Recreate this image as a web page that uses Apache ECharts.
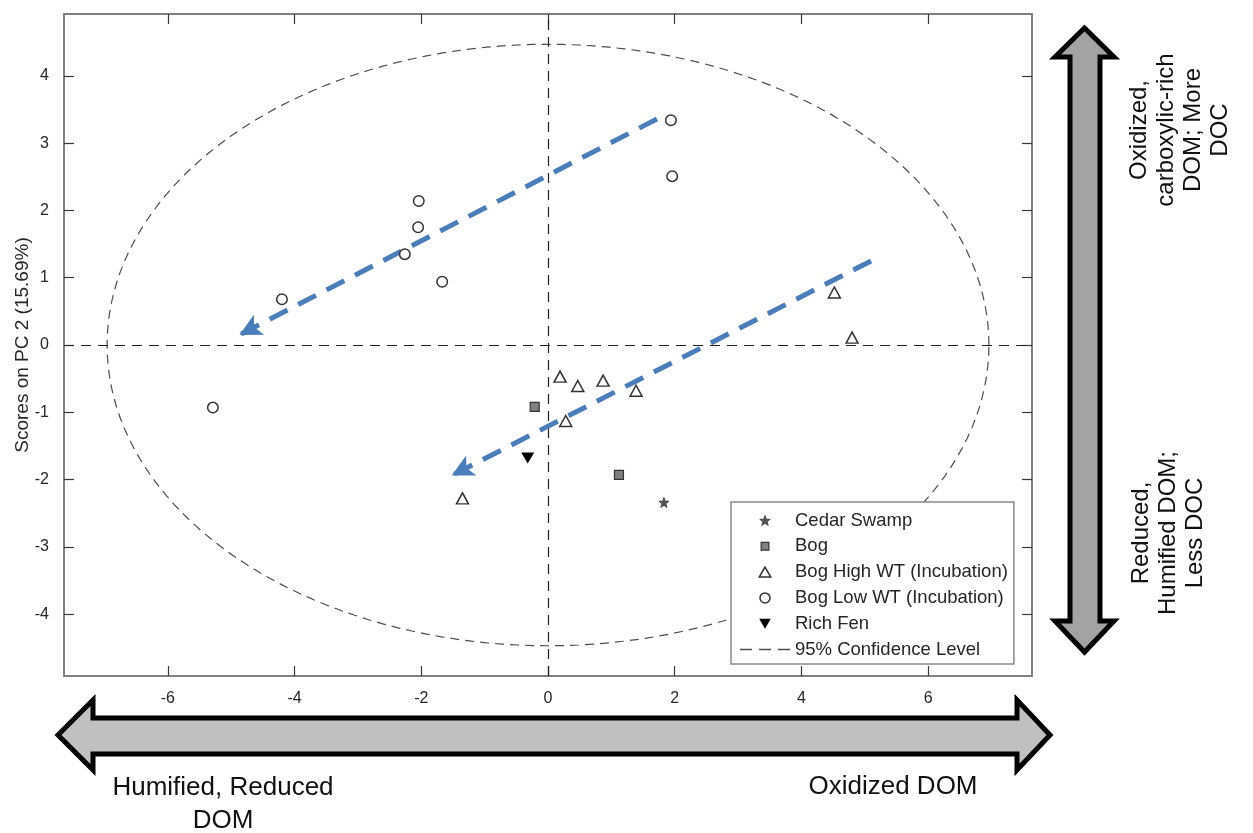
<!DOCTYPE html>
<html><head><meta charset="utf-8">
<script src="https://cdn.jsdelivr.net/npm/echarts@6/dist/echarts.min.js"></script>
<style>html,body{margin:0;padding:0;background:#fff}#c{width:1253px;height:833px}</style>
</head><body><div id="c"></div>
<script>
// ---- data ----
const xTicks = [-6, -4, -2, 0, 2, 4, 6];
const yTicks = [-4, -3, -2, -1, 0, 1, 2, 3, 4];
const cedarSwamp = [[1.83, -2.34]];
const bog = [[-0.21, -0.92], [1.12, -1.93]];
const bogHighWT = [[4.52, 0.78], [4.80, 0.11], [0.19, -0.47], [0.47, -0.61], [0.87, -0.53], [1.39, -0.68], [0.28, -1.13], [-1.35, -2.28]];
const bogLowWT = [[1.94, 3.34], [1.96, 2.51], [-2.04, 2.14], [-2.05, 1.75], [-2.26, 1.35], [-1.67, 0.94], [-4.20, 0.68], [-5.29, -0.93]];
const richFen = [[-0.32, -1.68]];
const ellipseSemiAxes = [6.96, 4.47];
const trendArrows = [[[1.72, 3.36], [-4.87, 0.15]], [[5.10, 1.25], [-1.52, -1.94]]];
const legendNames = ['Cedar Swamp', 'Bog', 'Bog High WT (Incubation)', 'Bog Low WT (Incubation)', 'Rich Fen', '95% Confidence Level'];

// ellipse outline from its semi-axes
const ellipsePts = [];
for (let i = 0; i <= 360; i += 2) {
  const t = i * Math.PI / 180;
  ellipsePts.push([ellipseSemiAxes[0] * Math.cos(t), ellipseSemiAxes[1] * Math.sin(t)]);
}

const FONT = '"Liberation Sans", Arial, Helvetica, sans-serif';
const starPath = 'path://M0,-10L2.35,-3.24L9.51,-3.09L3.8,1.24L5.88,8.09L0,4L-5.88,8.09L-3.8,1.24L-9.51,-3.09L-2.35,-3.24Z';
const downTri = 'path://M0,0L10,0L5,8.66Z';
const upTri = 'path://M5,0L10,8.66L0,8.66Z';
const sq = 'path://M-1.5,-1.5M11.5,11.5M0,0H10V10H0Z';
const dashIcon = 'path://M0,0H12V1.3H0Z M19,0H31V1.3H19Z M38,0H50V1.3H38Z';

const frame = { color: '#808080', width: 2 };
const tick = { color: '#3a3a3a', width: 1.2 };
function xAx(pos, labels) {
  return {
    type: 'value', min: -7.64, max: 7.64, position: pos,
    axisLine: { show: true, onZero: false, lineStyle: frame },
    axisTick: { show: true, inside: true, length: 10, customValues: xTicks, lineStyle: tick },
    axisLabel: { show: labels, customValues: xTicks, margin: 15, fontSize: 16, color: '#262626', fontFamily: FONT },
    splitLine: { show: false }
  };
}
function yAx(pos, labels) {
  const o = {
    type: 'value', min: -4.92, max: 4.92, position: pos,
    axisLine: { show: true, onZero: false, lineStyle: frame },
    axisTick: { show: true, inside: true, length: 10, customValues: yTicks, lineStyle: tick },
    axisLabel: { show: labels, customValues: yTicks, margin: 15, fontSize: 16, color: '#262626', fontFamily: FONT },
    splitLine: { show: false }
  };
  if (labels) {
    o.name = 'Scores on PC 2 (15.69%)';
    o.nameLocation = 'middle';
    o.nameGap = 32;
    o.nameMoveOverlap = false;
    o.nameTextStyle = { fontSize: 19, color: '#262626', fontFamily: FONT };
  }
  return o;
}

const mk = { color: '#fff', borderColor: '#333', borderWidth: 1.5 };
const option = {
  animation: false,
  backgroundColor: '#fff',
  grid: { left: 64, right: 221, top: 14, bottom: 157, containLabel: false, outerBoundsMode: 'none' },
  xAxis: [xAx('bottom', true), xAx('top', false)],
  yAxis: [yAx('left', true), yAx('right', false)],
  legend: {
    orient: 'vertical', left: 731, top: 502, selectedMode: false,
    padding: [9, 6, 5, 9], itemGap: 6.8, itemWidth: 50, itemHeight: 10,
    borderColor: '#8a8a8a', borderWidth: 1.5, backgroundColor: '#fff',
    textStyle: { fontSize: 18.5, lineHeight: 18, color: '#262626', fontFamily: FONT },
    data: [
      { name: legendNames[0], icon: starPath, itemStyle: { color: '#555', borderColor: '#333', borderWidth: 0.8 } },
      { name: legendNames[1], icon: sq, itemStyle: { color: '#808080', borderColor: '#333', borderWidth: 1.2 } },
      { name: legendNames[2], icon: upTri, itemStyle: mk },
      { name: legendNames[3], icon: 'circle', itemStyle: mk },
      { name: legendNames[4], icon: downTri, itemStyle: { color: '#000', borderWidth: 0 } },
      { name: legendNames[5], icon: dashIcon, itemStyle: { color: '#4d4d4d', borderWidth: 0 } }
    ]
  },
  graphic: [
    { type: 'polygon', z: 10,
      shape: { points: [[58, 735], [93, 700], [93, 718], [1017, 718], [1017, 700], [1050, 735], [1017, 770], [1017, 754], [93, 754], [93, 770]] },
      style: { fill: '#c0c0c0', stroke: '#000', lineWidth: 5, lineJoin: 'miter' } },
    { type: 'polygon', z: 10,
      shape: { points: [[1084.5, 28], [1114, 57], [1100, 57], [1100, 621], [1114, 621], [1084.5, 652], [1055, 621], [1070, 621], [1070, 57], [1055, 57]] },
      style: { fill: '#a3a3a3', stroke: '#000', lineWidth: 5, lineJoin: 'miter' } },
    { type: 'text', z: 10, x: 223, y: 804,
      style: { text: 'Humified, Reduced\nDOM', font: '26px ' + FONT, fill: '#111', textAlign: 'center', textVerticalAlign: 'middle', lineHeight: 33 } },
    { type: 'text', z: 10, x: 893, y: 787,
      style: { text: 'Oxidized DOM', font: '26px ' + FONT, fill: '#111', textAlign: 'center', textVerticalAlign: 'middle' } },
    { type: 'text', z: 10, x: 1180, y: 130, rotation: Math.PI / 2,
      style: { text: 'Oxidized,\ncarboxylic-rich\nDOM; More\nDOC', font: '24px ' + FONT, fill: '#111', textAlign: 'center', textVerticalAlign: 'middle', lineHeight: 27 } },
    { type: 'text', z: 10, x: 1168, y: 533, rotation: Math.PI / 2,
      style: { text: 'Reduced,\nHumified DOM;\nLess DOC', font: '24px ' + FONT, fill: '#111', textAlign: 'center', textVerticalAlign: 'middle', lineHeight: 27 } }
  ],
  series: [
    { name: 'zero', type: 'line', data: [], silent: true, z: 1,
      markLine: { silent: true, symbol: 'none', label: { show: false },
        lineStyle: { color: '#222', width: 1.2, type: [10, 7] },
        data: [{ xAxis: 0 }, { yAxis: 0 }] } },
    { name: legendNames[5], type: 'line', data: ellipsePts, symbol: 'none', smooth: false, silent: true, z: 2,
      color: '#4d4d4d', lineStyle: { color: '#4d4d4d', width: 1.2, type: [9, 6] } },
    { name: legendNames[0], type: 'scatter', data: cedarSwamp, symbol: starPath, symbolSize: 10, z: 5,
      itemStyle: { color: '#555', borderColor: '#333', borderWidth: 0.8, opacity: 1 } },
    { name: legendNames[1], type: 'scatter', data: bog, symbol: 'rect', symbolSize: 9, z: 5,
      itemStyle: { color: '#808080', borderColor: '#333', borderWidth: 1.2, opacity: 1 } },
    { name: legendNames[2], type: 'scatter', data: bogHighWT, symbol: 'triangle', symbolSize: [12, 11], z: 5,
      itemStyle: Object.assign({ opacity: 1 }, mk) },
    { name: legendNames[3], type: 'scatter', data: bogLowWT, symbol: 'circle', symbolSize: 10.5, z: 5,
      itemStyle: Object.assign({ opacity: 1 }, mk) },
    { name: legendNames[4], type: 'scatter', data: richFen, symbol: downTri, symbolSize: [13, 11], z: 5,
      itemStyle: { color: '#000', opacity: 1 } },
    { name: 'trend', type: 'line', data: [], silent: true, z: 8,
      markLine: { silent: true, symbol: ['none', 'arrow'], symbolSize: [17, 22], label: { show: false },
        lineStyle: { color: '#4a7ebb', width: 5, type: [20, 12], opacity: 1 },
        data: trendArrows.map(a => [{ coord: a[0] }, { coord: a[1] }]) } }
  ]
};
const chart = echarts.init(document.getElementById('c'), null, { renderer: 'canvas' });
chart.setOption(option);
</script></body></html>
